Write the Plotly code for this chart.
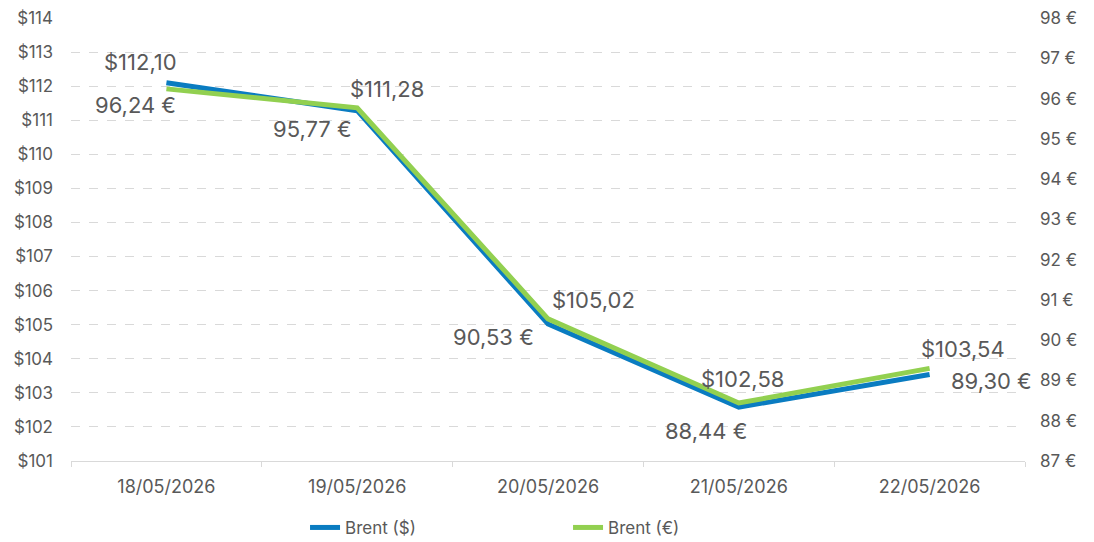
import plotly.graph_objects as go

dates = ["18/05/2026", "19/05/2026", "20/05/2026", "21/05/2026", "22/05/2026"]
brent_usd = [112.10, 111.28, 105.02, 102.58, 103.54]
brent_eur = [96.24, 95.77, 90.53, 88.44, 89.30]

usd_ticks = list(range(101, 115))
eur_ticks = list(range(87, 99))

BLUE = "#0A7CC1"
GREEN = "#92D050"
TXT = "#595959"
FONT = "Inter"

fig = go.Figure()
fig.add_trace(go.Scatter(x=dates, y=brent_usd, mode="lines", name="Brent ($)",
                         line=dict(color=BLUE, width=5), yaxis="y"))
fig.add_trace(go.Scatter(x=dates, y=brent_eur, mode="lines", name="Brent (€)",
                         line=dict(color=GREEN, width=5), yaxis="y2"))

def fmt(v):
    return f"{v:.2f}".replace(".", ",")

# label offsets (px) for $ (above) and € (below) labels
usd_off = [(-26, 21), (30, 22), (45, 24), (4, 28), (33, 25)]
eur_off = [(-31, -16), (-45, -21), (-55, -18), (-33, -28), (62, -13)]

for i, d in enumerate(dates):
    dx, dy = usd_off[i]
    fig.add_annotation(x=d, y=brent_usd[i], yref="y", text="$" + fmt(brent_usd[i]),
                       showarrow=False, xshift=dx, yshift=dy,
                       font=dict(size=22, color=TXT, family=FONT))
    dx, dy = eur_off[i]
    fig.add_annotation(x=d, y=brent_eur[i], yref="y2", text=fmt(brent_eur[i]) + " €",
                       showarrow=False, xshift=dx, yshift=dy,
                       font=dict(size=22, color=TXT, family=FONT))

fig.update_layout(
    width=1094, height=542,
    margin=dict(l=71, r=69, t=18, b=81, autoexpand=False),
    paper_bgcolor="white", plot_bgcolor="white",
    font=dict(family=FONT, color=TXT, size=16),
    showlegend=True,
    legend=dict(orientation="h", x=0.521, xanchor="center", y=-0.151, yanchor="middle",
                font=dict(size=17, color=TXT), entrywidth=218, traceorder="normal"),
    xaxis=dict(type="category", range=[-0.5, 4.5], autorange=False,
               showgrid=False, showline=True, linecolor="#D9D9D9",
               linewidth=1, ticks="outside", tickson="boundaries", ticklen=5,
               tickcolor="#D9D9D9", tickfont=dict(size=18, color=TXT), zeroline=False,
               ticklabelstandoff=9),
    yaxis=dict(range=[101, 114], autorange=False, tickmode="array", tickvals=usd_ticks,
               ticktext=["$" + str(t) for t in usd_ticks],
               showgrid=True, gridcolor="#D9D9D9", griddash="dash", gridwidth=1,
               zeroline=False, showline=False, ticks="", ticklabelstandoff=17,
               tickfont=dict(size=17, color=TXT)),
    yaxis2=dict(range=[87, 98], autorange=False, tickmode="array", tickvals=eur_ticks,
                ticktext=[str(t) + " €" for t in eur_ticks], overlaying="y",
                side="right", showgrid=False, zeroline=False, showline=False, ticks="",
                ticklabelstandoff=14, tickfont=dict(size=17, color=TXT)),
)

fig.write_html("out.html")
